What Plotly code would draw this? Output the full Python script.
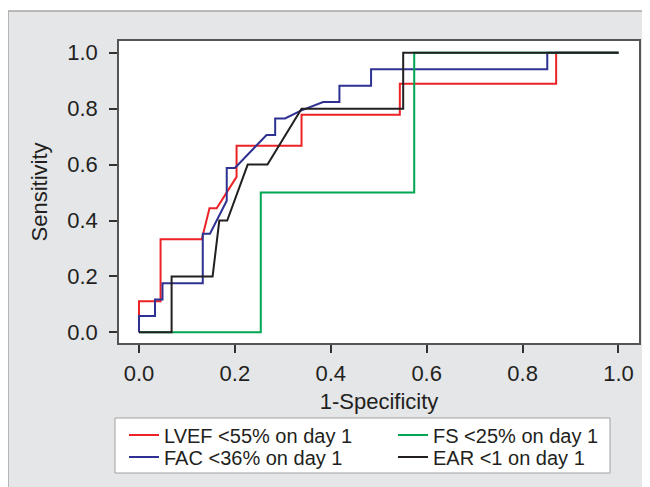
import plotly.graph_objects as go

# ---- data ----
lvef_x = [0, 0, 0.045, 0.045, 0.131, 0.147, 0.162, 0.2035, 0.2035, 0.339, 0.339, 0.544, 0.544, 0.87, 0.87, 1.0]
lvef_y = [0, 0.111, 0.111, 0.333, 0.333, 0.444, 0.444, 0.556, 0.667, 0.667, 0.778, 0.778, 0.889, 0.889, 1.0, 1.0]

fac_x = [0, 0, 0.0334, 0.0334, 0.049, 0.049, 0.133, 0.133, 0.148, 0.183, 0.183, 0.200, 0.266, 0.284, 0.284,
         0.3045, 0.339, 0.384, 0.418, 0.418, 0.484, 0.484, 0.8515, 0.8515, 1.0]
fac_y = [0, 0.059, 0.059, 0.118, 0.118, 0.176, 0.176, 0.353, 0.353, 0.471, 0.588, 0.588, 0.706, 0.706, 0.765,
         0.765, 0.794, 0.824, 0.824, 0.882, 0.882, 0.941, 0.941, 1.0, 1.0]

fs_x = [0, 0.254, 0.254, 0.574, 0.574, 1.0]
fs_y = [0, 0, 0.5, 0.5, 1.0, 1.0]

ear_x = [0, 0.068, 0.068, 0.1535, 0.1675, 0.184, 0.2267, 0.268, 0.339, 0.551, 0.551, 1.0]
ear_y = [0, 0, 0.2, 0.2, 0.4, 0.4, 0.6, 0.6, 0.8, 0.8, 1.0, 1.0]

names = ["LVEF &lt;55% on day 1", "FAC &lt;36% on day 1", "FS &lt;25% on day 1", "EAR &lt;1 on day 1"]
tick_vals = [0.0, 0.2, 0.4, 0.6, 0.8, 1.0]
tick_text = ["0.0", "0.2", "0.4", "0.6", "0.8", "1.0"]

FONT = "Liberation Sans, Arial, sans-serif"
W, H = 650, 487
OFF = 8  # page body margin of the html page
ML, MT = 119 - OFF, 41 - OFF
PW, PH = 520, 302
MR, MB = W - ML - PW, H - MT - PH


def px_x(p):  # page pixel -> paper x
    return (p - OFF - ML) / PW


def px_y(p):  # page pixel -> paper y
    return (MT + PH - (p - OFF)) / PH


fig = go.Figure()
series = [
    (lvef_x, lvef_y, names[0], "#ec2227", "legend"),
    (fac_x, fac_y, names[1], "#2e3192", "legend2"),
    (fs_x, fs_y, names[2], "#00a651", "legend3"),
    (ear_x, ear_y, names[3], "#231f20", "legend4"),
]
for xs, ys, nm, col, lg in series:
    fig.add_trace(go.Scatter(x=xs, y=ys, mode="lines", name=nm, legend=lg,
                             line=dict(color=col, width=2), hoverinfo="skip"))

leg_common = dict(bgcolor="rgba(0,0,0,0)", borderwidth=0, xanchor="left", yanchor="middle",
                  font=dict(family=FONT, size=20, color="#231f20"))
col1, col2 = px_x(124), px_x(393)
row1, row2 = px_y(435), px_y(457)

AX_FONT = 22
axis_common = dict(
    showgrid=False, zeroline=False, showline=True, linecolor="#555555", linewidth=1.5,
    mirror=True, ticks="outside", ticklen=8, tickwidth=1.5, tickcolor="#333333",
    tickvals=tick_vals, ticktext=tick_text,
    tickfont=dict(family=FONT, size=AX_FONT, color="#231f20"),
)

fig.update_layout(
    width=W, height=H,
    margin=dict(l=ML, r=MR, t=MT, b=MB, autoexpand=False),
    paper_bgcolor="white", plot_bgcolor="white",
    showlegend=True,
    legend=dict(x=col1, y=row1, **leg_common),
    legend2=dict(x=col1, y=row2, **leg_common),
    legend3=dict(x=col2, y=row1, **leg_common),
    legend4=dict(x=col2, y=row2, **leg_common),
    xaxis=dict(range=[-0.0417, 1.0428], title=dict(text="1-Specificity", standoff=8,
               font=dict(family=FONT, size=AX_FONT, color="#231f20")), ticklabelstandoff=2, **axis_common),
    yaxis=dict(range=[-0.038, 1.042], title=dict(text="Sensitivity", standoff=14,
               font=dict(family=FONT, size=AX_FONT, color="#231f20")), ticklabelstandoff=7, **axis_common),
    shapes=[
        dict(type="rect", xref="paper", yref="paper", layer="below",
             x0=px_x(8), x1=px_x(720), y0=px_y(560), y1=px_y(11),
             fillcolor="#e5e6e8", line=dict(color="#a6a6a6", width=1.5)),
        dict(type="rect", xref="paper", yref="paper", layer="below",
             x0=0, x1=1, y0=0, y1=1, fillcolor="white", line=dict(width=0)),
        dict(type="rect", xref="paper", yref="paper", layer="below",
             x0=px_x(115), x1=px_x(610), y0=px_y(473), y1=px_y(418),
             fillcolor="white", line=dict(color="#a0a0a0", width=1)),
    ],
)

fig.write_html("out.html")
